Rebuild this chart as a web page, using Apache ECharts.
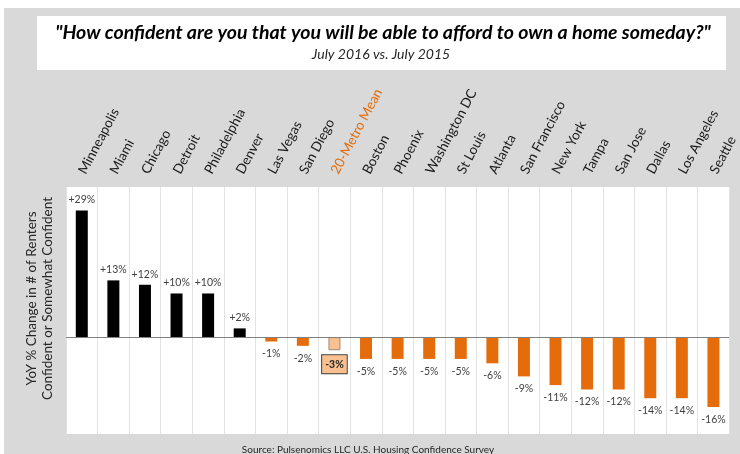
<!DOCTYPE html>
<html>
<head>
<meta charset="utf-8">
<script src="https://cdn.jsdelivr.net/npm/echarts@6/dist/echarts.min.js"></script>
<style>
  html, body { margin: 0; padding: 0; background: #ffffff; }
  #chart { width: 740px; height: 454px; }
</style>
</head>
<body>
<div id="chart"></div>
<script>
// Metro areas, ordered from largest gain to largest drop
const cities = [
  'Minneapolis', 'Miami', 'Chicago', 'Detroit', 'Philadelphia', 'Denver',
  'Las Vegas', 'San Diego', '20-Metro Mean', 'Boston', 'Phoenix',
  'Washington DC', 'St Louis', 'Atlanta', 'San Francisco', 'New York',
  'Tampa', 'San Jose', 'Dallas', 'Los Angeles', 'Seattle'
];
// YoY % change in renters confident / somewhat confident
const yoyChange = [29, 13, 12, 10, 10, 2, -1, -2, -3, -5, -5, -5, -5, -6, -9, -11, -12, -12, -14, -14, -16];
const meanLabel = '20-Metro Mean';

const FONT = 'Lato, "Open Sans", sans-serif';
const ORANGE = '#e46c0a';
const PEACH = '#fac090';

const data = yoyChange.map((v, i) => {
  const isMean = cities[i] === meanLabel;
  const item = {
    value: v,
    itemStyle: {
      color: isMean ? PEACH : (v >= 0 ? '#000000' : ORANGE),
      borderColor: isMean ? '#9a8a7a' : 'transparent',
      borderWidth: isMean ? 1 : 0
    },
    label: {
      position: v >= 0 ? 'top' : 'bottom',
      distance: v >= 0 ? 5 : 7
    }
  };
  if (isMean) {
    item.label = {
      position: 'bottom',
      distance: 5,
      fontWeight: 'bold',
      color: '#262626',
      backgroundColor: PEACH,
      borderColor: '#404040',
      borderWidth: 1,
      padding: [4, 3, 3, 3]
    };
  }
  return item;
});

const chart = echarts.init(document.getElementById('chart'), null, { renderer: 'canvas' });

chart.setOption({
  animation: false,
  backgroundColor: '#ffffff',
  graphic: [
    { type: 'rect', z: -10, shape: { x: 4, y: 8, width: 736, height: 446 }, style: { fill: '#d9d9d9' }, silent: true },
    { type: 'rect', z: -9, shape: { x: 37, y: 16, width: 689, height: 54 }, style: { fill: '#ffffff' }, silent: true },
    {
      type: 'text', z: 10, x: 383, y: 33,
      style: {
        text: '"How confident are you that you will be able to afford to own a home someday?"',
        font: 'italic bold 19.5px ' + FONT, fill: '#000000',
        align: 'center', verticalAlign: 'middle'
      }
    },
    {
      type: 'text', z: 10, x: 381, y: 54,
      style: {
        text: 'July 2016 vs. July 2015',
        font: 'italic 14px ' + FONT, fill: '#262626',
        align: 'center', verticalAlign: 'middle'
      }
    },
    {
      type: 'text', z: 10, x: 368, y: 450,
      style: {
        text: 'Source: Pulsenomics LLC U.S. Housing Confidence Survey',
        font: '10px ' + FONT, fill: '#262626',
        align: 'center', verticalAlign: 'middle'
      }
    }
  ],
  grid: {
    left: 66, top: 187, width: 666, height: 247,
    show: true, backgroundColor: '#ffffff', borderWidth: 0
  },
  xAxis: {
    type: 'category',
    position: 'top',
    data: cities,
    axisLine: { show: false },
    axisTick: { show: false },
    splitLine: { show: true, lineStyle: { color: '#e3e3e3', width: 1 } },
    axisLabel: {
      rotate: 62,
      margin: 14,
      interval: 0,
      fontFamily: FONT,
      fontSize: 13.5,
      color: (val) => val === meanLabel ? ORANGE : '#1a1a1a'
    }
  },
  yAxis: {
    type: 'value',
    min: -22.2,
    max: 34.4,
    axisLine: { show: false },
    axisTick: { show: false },
    axisLabel: { show: false },
    splitLine: { show: false },
    name: 'YoY % Change in # of Renters\nConfident or Somewhat Confident',
    nameLocation: 'middle',
    nameGap: 10,
    nameTextStyle: {
      fontFamily: FONT, fontSize: 13.5, lineHeight: 16, color: '#262626',
      padding: [0, 0, 0, 24]
    }
  },
  series: [{
    type: 'bar',
    data: data,
    barWidth: 12,
    label: {
      show: true,
      fontFamily: FONT,
      fontSize: 10.5,
      color: '#404040',
      formatter: (p) => (p.value > 0 ? '+' : '') + p.value + '%'
    },
    markLine: {
      silent: true,
      symbol: 'none',
      label: { show: false },
      lineStyle: { color: '#808080', width: 1, type: 'solid' },
      data: [{ yAxis: 0 }]
    }
  }]
});
</script>
</body>
</html>
